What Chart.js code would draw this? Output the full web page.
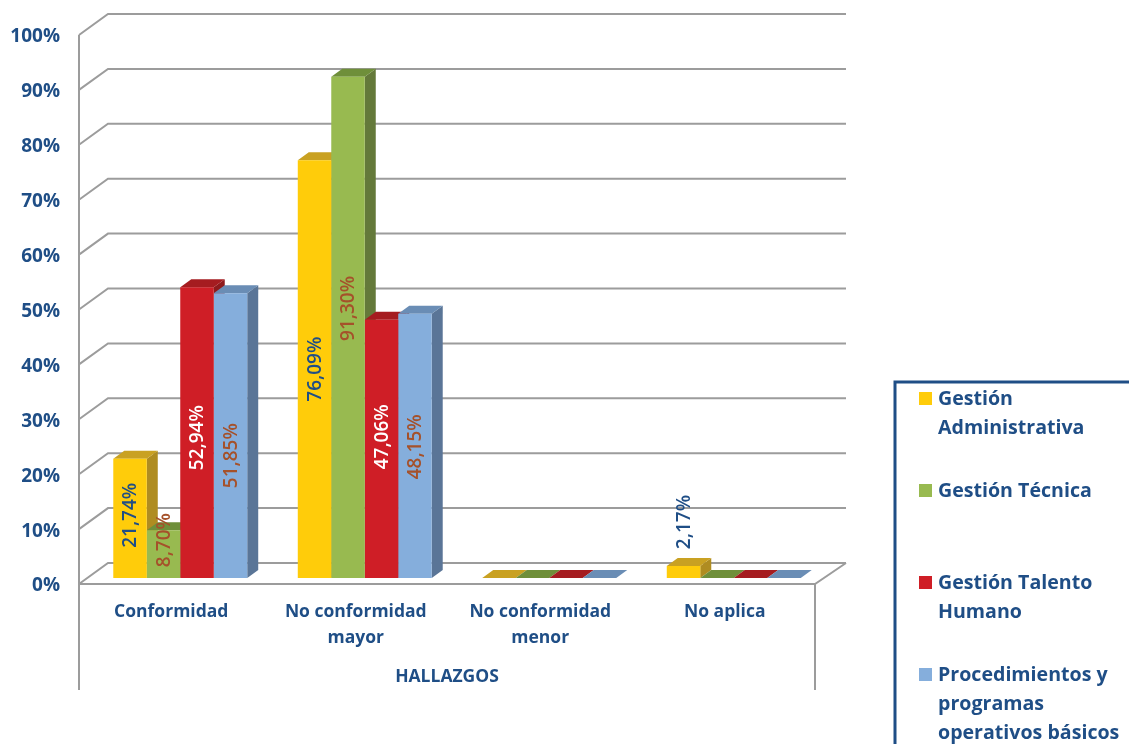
<!DOCTYPE html>
<html>
<head>
<meta charset="utf-8">
<title>Hallazgos</title>
<script src="https://cdn.jsdelivr.net/npm/chart.js@4"></script>
<style>
    html, body { margin: 0; padding: 0; background: #fff; overflow: hidden; }
    #box { width: 1129px; height: 744px; position: relative; }
</style>
</head>
<body>
<div id="box"><canvas id="chart" width="1129" height="744"></canvas></div>
<script>
const categories = ['Conformidad', ['No conformidad', 'mayor'], ['No conformidad', 'menor'], 'No aplica'];
const seriesNames = ['Gestión Administrativa', 'Gestión Técnica', 'Gestión Talento Humano', 'Procedimientos y programas operativos básicos'];
const administrativa = [21.74, 76.09, 0, 2.17];
const tecnica = [8.70, 91.30, 0, 0];
const talentoHumano = [52.94, 47.06, 0, 0];
const procedimientos = [51.85, 48.15, 0, 0];
const yTicks = [0, 10, 20, 30, 40, 50, 60, 70, 80, 90, 100];
const axisTitle = 'HALLAZGOS';
const legendLines = [
    ['Gestión', 'Administrativa'],
    ['Gestión Técnica'],
    ['Gestión Talento', 'Humano'],
    ['Procedimientos y', 'programas', 'operativos básicos']
];

// colours: front, side and top face of the fake 3D bars
const frontColors = ['#FFCC0A', '#98BA50', '#CF1E26', '#85AEDC'];
const sideColors = ['#AF8C21', '#64793A', '#8E1A1C', '#5A7597'];
const topColors = ['#C9A122', '#6F8F3A', '#A51C20', '#6A8DB5'];
const labelColors = ['#1F4E86', '#A5512A', '#FFFFFF', '#A5512A'];
// labels sit a bit off the middle of the bar in the original
const labelNudge = [[-3, 0, 0, -50], [-14, -19, 0, 0], [5, -12, 0, 0], [20, 1, 0, 0]];

const navy = '#1F4E86';
const gridColor = '#9C9C9C';
const fontName = '"Open Sans", sans-serif';
const depthX = 11, depthY = 8;

const wall3d = {
    id: 'wall3d',
    beforeDatasetsDraw(chart) {
        const ctx = chart.ctx, y = chart.scales.y, a = chart.chartArea;
        const frontL = a.left - 9, frontR = a.right - 11, backL = a.left + 20, backR = a.right + 20;
        const bottom = y.getPixelForValue(0);
        ctx.save();
        ctx.strokeStyle = gridColor;
        ctx.lineWidth = 2;
        yTicks.forEach(t => {
            const p = y.getPixelForValue(t);
            ctx.beginPath();
            ctx.moveTo(frontL, p + 6);
            ctx.lineTo(backL, p - 15);
            ctx.lineTo(backR, p - 15);
            ctx.stroke();
        });
        ctx.beginPath();
        ctx.moveTo(frontL, y.getPixelForValue(100) + 6);
        ctx.lineTo(frontL, 690);
        ctx.moveTo(frontL, bottom + 6);
        ctx.lineTo(frontR, bottom + 6);
        ctx.lineTo(backR, bottom - 15);
        ctx.moveTo(frontR, bottom + 6);
        ctx.lineTo(frontR, 690);
        ctx.stroke();

        // side and top faces, the library paints the front on top of these
        chart.data.datasets.forEach((ds, d) => {
            chart.getDatasetMeta(d).data.forEach(bar => {
                const l = bar.x - bar.width / 2, r = bar.x + bar.width / 2;
                ctx.fillStyle = sideColors[d];
                ctx.beginPath();
                ctx.moveTo(r, bar.y);
                ctx.lineTo(r + depthX, bar.y - depthY);
                ctx.lineTo(r + depthX, bar.base - depthY);
                ctx.lineTo(r, bar.base);
                ctx.closePath();
                ctx.fill();
                ctx.fillStyle = topColors[d];
                ctx.beginPath();
                ctx.moveTo(l, bar.y);
                ctx.lineTo(l + depthX, bar.y - depthY);
                ctx.lineTo(r + depthX, bar.y - depthY);
                ctx.lineTo(r, bar.y);
                ctx.closePath();
                ctx.fill();
            });
        });
        ctx.restore();
    },
    afterDatasetsDraw(chart) {
        const ctx = chart.ctx;
        ctx.save();
        ctx.font = '600 19px ' + fontName;
        ctx.textAlign = 'center';
        ctx.textBaseline = 'middle';
        chart.data.datasets.forEach((ds, d) => {
            chart.getDatasetMeta(d).data.forEach((bar, i) => {
                if (!ds.data[i]) return;
                ctx.save();
                ctx.translate(bar.x + 1, (bar.y + bar.base) / 2 + labelNudge[d][i]);
                ctx.rotate(-Math.PI / 2);
                ctx.fillStyle = labelColors[d];
                ctx.fillText(ds.data[i].toFixed(2).replace('.', ',') + '%', 0, 0);
                ctx.restore();
            });
        });
        ctx.restore();
    },
    afterDraw(chart) {
        const ctx = chart.ctx, a = chart.chartArea;
        ctx.save();
        ctx.fillStyle = navy;
        ctx.font = '700 17.5px ' + fontName;
        ctx.textBaseline = 'middle';
        ctx.textAlign = 'center';
        ctx.fillText(axisTitle, (a.left - 9 + a.right - 11) / 2, 677);

        // legend box, runs off the right and bottom of the picture
        ctx.strokeStyle = navy;
        ctx.lineWidth = 3;
        ctx.beginPath();
        ctx.moveTo(895, 744);
        ctx.lineTo(895, 382);
        ctx.lineTo(1129, 382);
        ctx.stroke();
        ctx.textAlign = 'left';
        ctx.font = '700 19.6px ' + fontName;
        const legendTop = [399, 491, 583, 675];
        legendLines.forEach((lines, d) => {
            ctx.fillStyle = frontColors[d];
            ctx.fillRect(919, legendTop[d] - 7, 13, 13);
            ctx.fillStyle = navy;
            lines.forEach((line, n) => ctx.fillText(line, 938, legendTop[d] + n * 29));
        });
        ctx.restore();
    }
};

const seriesValues = [administrativa, tecnica, talentoHumano, procedimientos];

new Chart(document.getElementById('chart'), {
    type: 'bar',
    data: {
        labels: categories,
        datasets: seriesValues.map((values, d) => ({
            label: seriesNames[d],
            data: values,
            backgroundColor: frontColors[d],
            borderWidth: 0,
            barPercentage: 1,
            categoryPercentage: 0.726
        }))
    },
    plugins: [wall3d],
    options: {
        responsive: false,
        animation: false,
        layout: { padding: { top: 29, right: 303, left: 0, bottom: 0 } },
        plugins: {
            legend: { display: false },
            title: { display: false },
            tooltip: { enabled: false }
        },
        scales: {
            x: {
                grid: { display: false },
                border: { display: false },
                afterFit: scale => { scale.height = 166; },
                ticks: {
                    autoSkip: false,
                    maxRotation: 0,
                    padding: 13,
                    labelOffset: -9,
                    color: navy,
                    font: { family: fontName, size: 17.5, weight: '700', lineHeight: 1.5 }
                }
            },
            y: {
                min: 0,
                max: 100,
                grid: { display: false },
                border: { display: false },
                afterFit: scale => {
                    scale.width = 88;
                    scale.paddingTop = 0;
                    scale.paddingBottom = 0;
                },
                ticks: {
                    stepSize: 10,
                    padding: 20,
                    labelOffset: 8,
                    color: navy,
                    font: { family: fontName, size: 19, weight: '700' },
                    callback: value => value + '%'
                }
            }
        }
    }
});
</script>
</body>
</html>
